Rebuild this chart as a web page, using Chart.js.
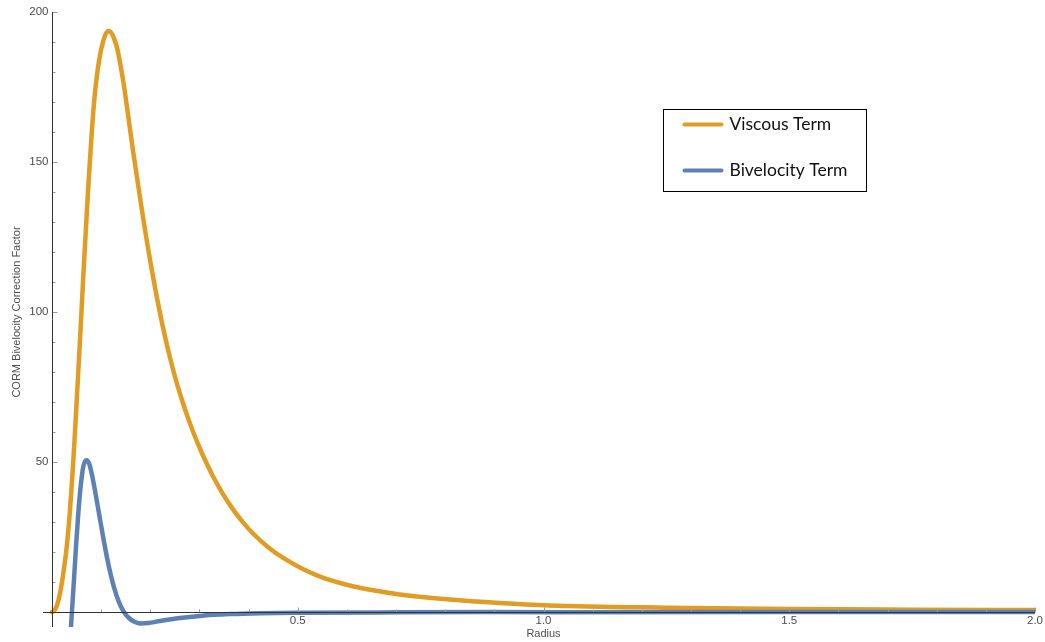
<!DOCTYPE html>
<html>
<head>
<meta charset="utf-8">
<title>CORM Bivelocity Correction Factor</title>
<script src="https://cdn.jsdelivr.net/npm/chart.js@4.4.1/dist/chart.umd.min.js"></script>
<style>
  html, body { margin: 0; padding: 0; background: #fff; }
  #wrap { position: relative; width: 1045px; height: 642px; }
</style>
</head>
<body>
<div id="wrap"><canvas id="plot"></canvas></div>
<script>
// --- sampled curves: radius -> correction factor ---
const viscousRadius = [0, 0.0061, 0.0122, 0.0183, 0.0244, 0.0305, 0.0366, 0.0427, 0.0488, 0.0569,
  0.0650, 0.0732, 0.0793, 0.0854, 0.0915, 0.0976, 0.1037, 0.1098, 0.1144, 0.1199,
  0.1260, 0.1327, 0.1402, 0.1463, 0.1545, 0.1646, 0.1850, 0.2053, 0.2256, 0.2459,
  0.2663, 0.2866, 0.3069, 0.3272, 0.3476, 0.3679, 0.3882, 0.4085, 0.4390, 0.4695,
  0.5102, 0.5549, 0.6057, 0.6565, 0.7073, 0.8089, 0.9106, 1.0122,
  1.25, 1.5, 1.75, 2.0];
const viscousValues = [0, 0.8, 3.3, 8, 14.5, 22.5, 34, 48.5, 66, 90.5,
  116, 140, 156, 169.5, 179, 185.5, 190, 192.8, 193.7, 193.2,
  191.3, 187.8, 181.5, 175.5, 166, 154, 131.75, 112, 95, 81,
  69.65, 60.25, 52.25, 45.35, 39.4, 34.3, 29.95, 26.25, 21.7, 18.1,
  14.35, 11.2, 8.85, 7.15, 5.85, 4.15, 3.0, 2.2,
  1.45, 0.98, 0.78, 0.65];

const bivelRadius = [0.029, 0.0386, 0.0447, 0.0488, 0.0535, 0.0583, 0.0636, 0.0697, 0.0752, 0.0803,
  0.0860, 0.0955, 0.1057, 0.1159, 0.1260, 0.1362, 0.1463, 0.1565, 0.1667, 0.1789,
  0.1951, 0.2195, 0.2602, 0.3008, 0.3618, 0.4228, 0.5041, 0.7073, 1.0122, 1.5, 2.0];
const bivelValues = [-30, -5, 10.7, 21.8, 32.9, 41.8, 48.4, 50.6, 49.6, 46.5,
  41.8, 33, 23.5, 15, 8.3, 3.3, 0, -2, -3.2, -3.8,
  -3.7, -3, -2, -1.3, -0.7, -0.4, -0.25, -0.12, -0.05, -0.02, 0];

const xTickLabels = ['0.5', '1.0', '1.5', '2.0'];
const yTickLabels = ['50', '100', '150', '200'];
const seriesNames = ['Viscous Term', 'Bivelocity Term'];

const COLORS = { viscous: '#E19C24', bivel: '#5E81B5', axis: '#333333', tick: '#9a9a9a', text: '#4d4d4d' };
const FONT = 'Liberation Sans, Arial, sans-serif';

const toPoints = (xs, ys) => xs.map((x, i) => ({ x: x, y: ys[i] }));

// axis lines through the origin, ticks pointing inward
const originAxes = {
  id: 'originAxes',
  afterDatasetsDraw(chart) {
    const { ctx, scales: { x, y } } = chart;
    const x0 = Math.round(x.getPixelForValue(0)) + 0.5;
    const y0 = Math.round(y.getPixelForValue(0)) + 0.5;
    ctx.save();
    ctx.lineWidth = 1;
    ctx.strokeStyle = COLORS.tick;
    ctx.beginPath();
    x.ticks.forEach(t => {
      const k = Math.round(t.value * 10);
      if (k === 0) return;
      const px = Math.round(x.getPixelForValue(t.value)) + 0.5;
      ctx.moveTo(px, y0);
      ctx.lineTo(px, y0 - (k % 5 === 0 ? 5 : 3));
    });
    y.ticks.forEach(t => {
      const v = Math.round(t.value);
      if (v === 0) return;
      const py = Math.round(y.getPixelForValue(t.value)) + 0.5;
      ctx.moveTo(x0, py);
      ctx.lineTo(x0 + (v % 50 === 0 ? 5 : 3), py);
    });
    ctx.stroke();

    ctx.strokeStyle = COLORS.axis;
    ctx.beginPath();
    ctx.moveTo(x.left - 9, y0);
    ctx.lineTo(x.right, y0);
    ctx.moveTo(x0, y.top);
    ctx.lineTo(x0, y.bottom + 15);
    ctx.stroke();
    ctx.restore();
  }
};

// boxed legend in the upper right of the plot
const boxLegend = {
  id: 'boxLegend',
  afterDraw(chart) {
    const { ctx } = chart;
    const left = 663.5, top = 109.5, w = 203, h = 82;
    ctx.save();
    ctx.fillStyle = '#fff';
    ctx.fillRect(left, top, w, h);
    ctx.strokeStyle = '#000';
    ctx.lineWidth = 1;
    ctx.strokeRect(left, top, w, h);
    ctx.font = '17.5px Lato, sans-serif';
    ctx.textBaseline = 'middle';
    chart.data.datasets.forEach((ds, i) => {
      const rowY = top + 15 + i * 46;
      ctx.strokeStyle = ds.borderColor;
      ctx.lineWidth = 4;
      ctx.lineCap = 'round';
      ctx.beginPath();
      ctx.moveTo(left + 21, rowY);
      ctx.lineTo(left + 58, rowY);
      ctx.stroke();
      ctx.fillStyle = '#111';
      ctx.fillText(ds.label, left + 66, rowY);
    });
    ctx.restore();
  }
};

const lineStyle = {
  pointRadius: 0,
  borderWidth: 4.5,
  borderCapStyle: 'round',
  borderJoinStyle: 'round',
  cubicInterpolationMode: 'monotone',
  fill: false,
  clip: { left: 5, top: 0, right: 0, bottom: 15 }
};

new Chart(document.getElementById('plot'), {
  type: 'line',
  data: {
    datasets: [
      { label: seriesNames[0], data: toPoints(viscousRadius, viscousValues), borderColor: COLORS.viscous, order: 1, ...lineStyle },
      { label: seriesNames[1], data: toPoints(bivelRadius, bivelValues), borderColor: COLORS.bivel, order: 0, ...lineStyle }
    ]
  },
  options: {
    responsive: true,
    maintainAspectRatio: false,
    animation: false,
    events: [],
    layout: { padding: { left: 0, top: 12, right: 9, bottom: 0 } },
    plugins: { legend: { display: false }, tooltip: { enabled: false } },
    scales: {
      x: {
        type: 'linear',
        min: 0,
        max: 2,
        afterFit: s => { s.height = 30; },
        grid: { display: false, drawTicks: false },
        border: { display: false },
        ticks: {
          stepSize: 0.1,
          autoSkip: false,
          maxRotation: 0,
          padding: 2,
          color: COLORS.text,
          font: { family: FONT, size: 11.5 },
          callback: v => { const s = Number(v).toFixed(1); return xTickLabels.includes(s) ? s : ''; }
        },
        title: { display: true, text: 'Radius', color: COLORS.text, font: { family: FONT, size: 11 }, padding: { top: 0, bottom: 1.4 } }
      },
      y: {
        type: 'linear',
        min: 0,
        max: 200,
        afterFit: s => { s.width = 52; },
        grid: { display: false, drawTicks: false },
        border: { display: false },
        ticks: {
          stepSize: 10,
          autoSkip: false,
          padding: 3.5,
          color: COLORS.text,
          font: { family: FONT, size: 11.5 },
          callback: v => { const s = String(Math.round(v)); return yTickLabels.includes(s) ? s : ''; }
        },
        title: { display: true, text: 'CORM Bivelocity Correction Factor', color: COLORS.text, font: { family: FONT, size: 11 }, padding: { top: 10.4, bottom: 0 } }
      }
    }
  },
  plugins: [originAxes, boxLegend]
});
</script>
</body>
</html>
